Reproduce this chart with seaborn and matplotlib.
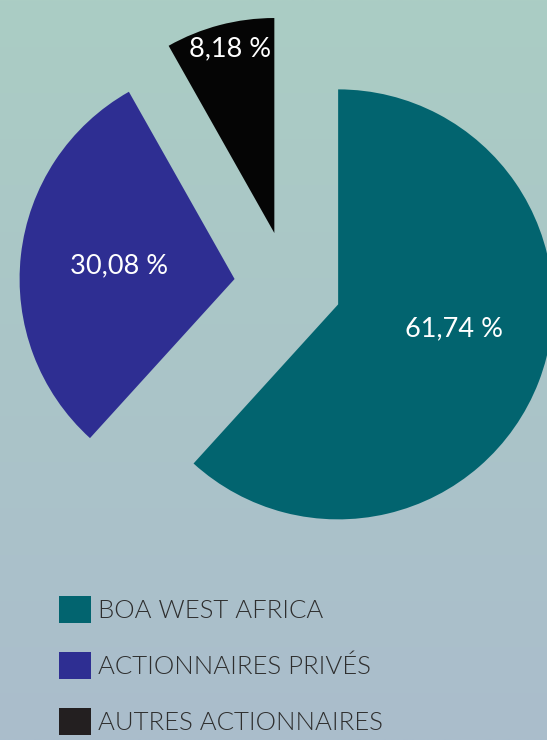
import numpy as np
import matplotlib
matplotlib.use("Agg")
import matplotlib.pyplot as plt
import matplotlib.colors as mcolors
import seaborn as sns

# Shareholder structure
categories = ["BOA WEST AFRICA", "ACTIONNAIRES PRIVÉS", "AUTRES ACTIONNAIRES"]
shares = [61.74, 30.08, 8.18]
share_labels = ["61,74 %", "30,08 %", "8,18 %"]
colors = ["#02646f", "#2e2e92", "#050505"]
legend_colors = ["#02646f", "#2e2e92", "#231f20"]

sns.set_theme(style="white")
plt.rcParams["font.family"] = ["Lato", "DejaVu Sans"]

W, H, DPI = 547, 740, 100
fig = plt.figure(figsize=(W / DPI, H / DPI), dpi=DPI)

# Vertical background gradient
bg = fig.add_axes([0, 0, 1, 1], zorder=0)
grad = np.linspace(0, 1, 256).reshape(-1, 1)
cmap = mcolors.LinearSegmentedColormap.from_list("bg", ["#abcdc4", "#aabdcc"])
bg.imshow(grad, aspect="auto", cmap=cmap, extent=[0, 1, 0, 1], origin="upper")
bg.set_axis_off()

# Pie axes: one data unit = pie radius in pixels
R = 215.0
cx, cy = 288.0, 285.0
ax = fig.add_axes([0, 0, 1, 1], zorder=1)
ax.patch.set_alpha(0)
wedges, _ = ax.pie(
    shares,
    colors=colors,
    startangle=90,
    counterclock=False,
    explode=[0.25, 0.25, 0.25],
    radius=1.0,
    wedgeprops=dict(linewidth=0),
)
ax.set_xlim(-cx / R, (W - cx) / R)
ax.set_ylim(-(H - cy) / R, cy / R)
ax.set_aspect("auto")
ax.set_axis_off()

# Percentage labels placed inside each wedge
label_dist = [0.55, 0.54, 0.88]
label_rot = [9.0, 0.0, -1.3]
for w, txt, d, rot in zip(wedges, share_labels, label_dist, label_rot):
    mid = np.deg2rad((w.theta1 + w.theta2) / 2 + rot)
    x0, y0 = w.center
    ax.text(x0 + d * np.cos(mid), y0 + d * np.sin(mid), txt,
            color="white", fontsize=19.5, ha="center", va="center")

# Legend with square markers
handles = [plt.Rectangle((0, 0), 1, 1, facecolor=c, edgecolor="none") for c in legend_colors]
leg = fig.legend(
    handles, categories,
    loc="upper left",
    bbox_to_anchor=(54 / W, 1 - 591 / H),
    frameon=False,
    handlelength=1.25,
    handleheight=1.25,
    handletextpad=0.25,
    labelspacing=1.12,
    borderaxespad=0,
    borderpad=0.2,
    prop=dict(weight=300, size=18.5),
)
for t in leg.get_texts():
    t.set_color("#2e2e2e")

fig.savefig("out.png", dpi=DPI)
